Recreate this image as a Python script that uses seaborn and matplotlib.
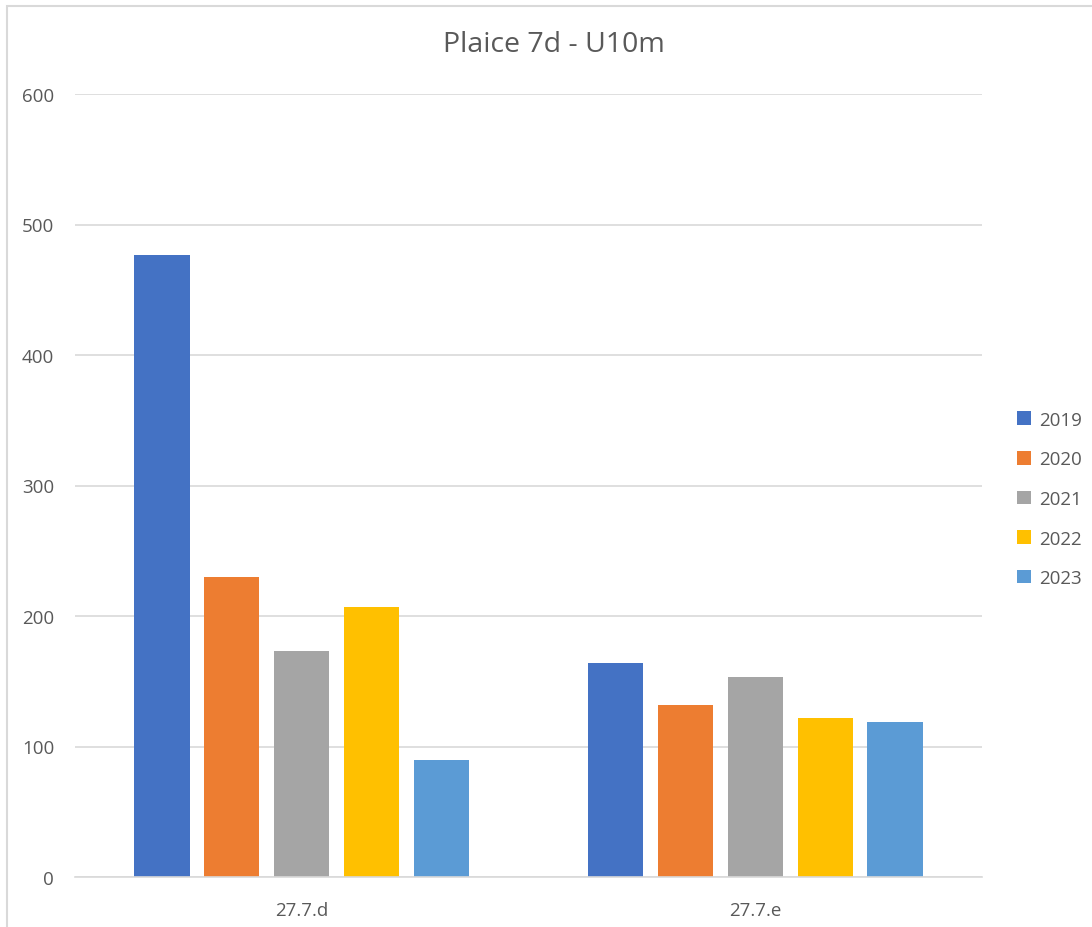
import pandas as pd
import seaborn as sns
import matplotlib.pyplot as plt
from matplotlib.patches import Rectangle

# data
areas = ['27.7.d', '27.7.e']
years = ['2019', '2020', '2021', '2022', '2023']
vals_77d = [477, 230, 173, 207, 90]
vals_77e = [164, 132, 153, 122, 119]
colors = ['#4472C4', '#ED7D31', '#A5A5A5', '#FFC000', '#5B9BD5']

df = pd.DataFrame({
    'area': [areas[0]] * 5 + [areas[1]] * 5,
    'year': years + years,
    'value': vals_77d + vals_77e,
})

sns.set_style('white')
plt.rcParams['font.family'] = ['Open Sans', 'DejaVu Sans']

fig = plt.figure(figsize=(10.92, 9.28), dpi=100)
ax = fig.add_axes([75 / 1092, 1 - 878 / 928, 907 / 1092, 783 / 928])

sns.barplot(data=df, x='area', y='value', hue='year', palette=colors,
            width=0.77, gap=0.21, saturation=1, linewidth=0, ax=ax, legend=True)

ax.set_ylim(0, 600)
ax.set_xlim(-0.5, 1.5)
ax.set_yticks(range(0, 601, 100))
ax.yaxis.grid(True, color='#D9D9D9', lw=1.2)
ax.set_axisbelow(True)
for s in ['top', 'right', 'left']:
    ax.spines[s].set_visible(False)
ax.spines['bottom'].set_color('#D9D9D9')
ax.spines['bottom'].set_linewidth(1.2)
ax.tick_params(axis='both', length=0, labelsize=13.5, colors='#595959')
ax.tick_params(axis='y', pad=15)
ax.tick_params(axis='x', pad=17)
ax.set_xlabel('')
ax.set_ylabel('')

# legend on the right
handles, labels = ax.get_legend_handles_labels()
ax.legend(handles, labels, loc='center left',
          bbox_to_anchor=(1008 / 1092, 1 - 500 / 928), bbox_transform=fig.transFigure,
          frameon=False, fontsize=13.5, labelcolor='#595959', borderpad=0,
          handlelength=0.75, handleheight=0.75, handletextpad=0.4, labelspacing=1.15)

fig.text(554 / 1092, 1 - 45 / 928, 'Plaice 7d - U10m', ha='center', va='center',
         fontsize=20.5, color='#595959')

# chart border
fig.patches.append(Rectangle((7 / 1092, -0.01), 1.1, 1 - 7 / 928 + 0.01,
                             transform=fig.transFigure, fill=False,
                             edgecolor='#D9D9D9', lw=1.5))

fig.savefig('out.png', dpi=100)
